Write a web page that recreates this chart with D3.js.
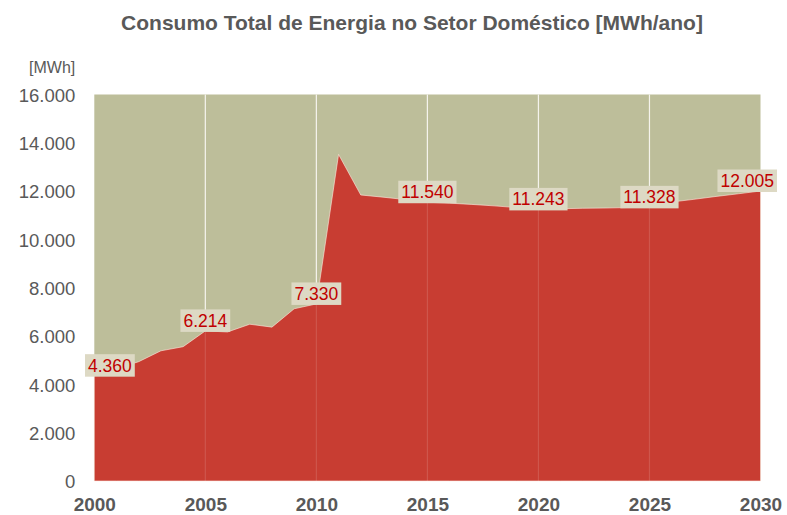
<!DOCTYPE html>
<html>
<head>
<meta charset="utf-8">
<script src="https://cdn.jsdelivr.net/npm/d3@7/dist/d3.min.js"></script>
<style>
  html, body { margin: 0; padding: 0; background: #ffffff; }
  svg { display: block; }
</style>
</head>
<body>
<svg id="chart" width="787" height="515"></svg>
<script>
const title = "Consumo Total de Energia no Setor Doméstico [MWh/ano]";
const unitLabel = "[MWh]";
const years = [2000,2001,2002,2003,2004,2005,2006,2007,2008,2009,2010,
               2011,2012,2013,2014,2015,2016,2017,2018,2019,2020,
               2021,2022,2023,2024,2025,2026,2027,2028,2029,2030];
const consumo = [4360,4650,4940,5390,5560,6214,6170,6490,6370,7130,7330,
                 13520,11840,11750,11650,11540,11500,11450,11390,11320,11243,
                 11270,11290,11300,11320,11328,11550,11660,11780,11890,12005];
const labelYears = [2000,2005,2010,2015,2020,2025,2030];
const yTicks = [0,2000,4000,6000,8000,10000,12000,14000,16000];
const xTicks = [2000,2005,2010,2015,2020,2025,2030];

const W = 787, H = 515;
const m = {left: 94.3, right: 26.5, top: 94.5, bottom: 34};
const svg = d3.select("#chart");
const locale = d3.formatLocale({decimal: ",", thousands: ".", grouping: [3], currency: ["", ""]});
const fmt = locale.format(",d");

const x = d3.scaleLinear().domain([2000, 2030]).range([m.left, W - m.right]);
const y = d3.scaleLinear().domain([0, 16000]).range([H - m.bottom, m.top]);

const data = years.map((yr, i) => ({yr, v: consumo[i]}));

// plot background
svg.append("rect")
  .attr("x", x(2000)).attr("y", y(16000))
  .attr("width", x(2030) - x(2000)).attr("height", y(0) - y(16000))
  .attr("fill", "#BDBE9A");

// gridlines behind
const gridYears = xTicks.slice(1, -1);
svg.append("g").selectAll("line").data(gridYears).join("line")
  .attr("x1", d => x(d)).attr("x2", d => x(d))
  .attr("y1", y(16000)).attr("y2", y(0))
  .attr("stroke", "#F4F2EA").attr("stroke-width", 1.2);

// area
const area = d3.area().x(d => x(d.yr)).y0(y(0)).y1(d => y(d.v));
svg.append("path").datum(data)
  .attr("d", area)
  .attr("fill", "#C83D32")
  .attr("stroke", "rgba(255,235,225,0.6)")
  .attr("stroke-width", 1);

// gridlines faintly over area
svg.append("g").selectAll("line").data(gridYears).join("line")
  .attr("x1", d => x(d)).attr("x2", d => x(d))
  .attr("y1", y(16000)).attr("y2", y(0))
  .attr("stroke", "rgba(255,255,255,0.13)").attr("stroke-width", 1.2);

// y axis labels
const yAxis = d3.axisLeft(y).tickValues(yTicks).tickFormat(fmt).tickSize(0).tickPadding(0);
const gy = svg.append("g").attr("transform", `translate(${x(2000) - 19},0)`).call(yAxis);
gy.select(".domain").remove();
gy.selectAll("text")
  .attr("fill", "#595959")
  .style("font-family", "Arial, 'Liberation Sans', sans-serif")
  .style("font-size", "18.5px")
  .attr("dy", "0.36em");

// x axis labels
const xAxis = d3.axisBottom(x).tickValues(xTicks).tickFormat(d3.format("d")).tickSize(0).tickPadding(0);
const gx = svg.append("g").attr("transform", `translate(0,${y(0)})`).call(xAxis);
gx.select(".domain").remove();
gx.selectAll("text")
  .attr("fill", "#595959")
  .attr("y", 30).attr("dy", 0)
  .style("font-family", "Arial, 'Liberation Sans', sans-serif")
  .style("font-size", "19px")
  .style("font-weight", "bold");

// unit label
svg.append("text")
  .attr("x", x(2000) - 19).attr("y", 73)
  .attr("text-anchor", "end")
  .attr("fill", "#595959")
  .style("font-family", "Arial, 'Liberation Sans', sans-serif")
  .style("font-size", "16px")
  .text(unitLabel);

// title
svg.append("text")
  .attr("x", 412).attr("y", 30)
  .attr("text-anchor", "middle")
  .attr("fill", "#595959")
  .style("font-family", "Arial, 'Liberation Sans', sans-serif")
  .style("font-size", "21px")
  .style("font-weight", "bold")
  .text(title);

// data labels
const lg = svg.append("g");
labelYears.forEach(yr => {
  const d = data.find(p => p.yr === yr);
  const g = lg.append("g");
  const t = g.append("text")
    .attr("text-anchor", "middle")
    .attr("fill", "#C00000")
    .style("font-family", "Arial, 'Liberation Sans', sans-serif")
    .style("font-size", "17.5px")
    .text(fmt(d.v));
  const bw = t.node().getComputedTextLength() + 6;
  const bh = 22.5;
  let cx = x(d.yr);
  cx = Math.max(cx, 85 + bw / 2);
  cx = Math.min(cx, 777 - bw / 2);
  const bottom = y(d.v) + 1;
  g.insert("rect", "text")
    .attr("x", cx - bw / 2).attr("y", bottom - bh)
    .attr("width", bw).attr("height", bh)
    .attr("fill", "#DDD9C4");
  t.attr("x", cx).attr("y", bottom - bh / 2 + 6.3);
});
</script>
</body>
</html>
